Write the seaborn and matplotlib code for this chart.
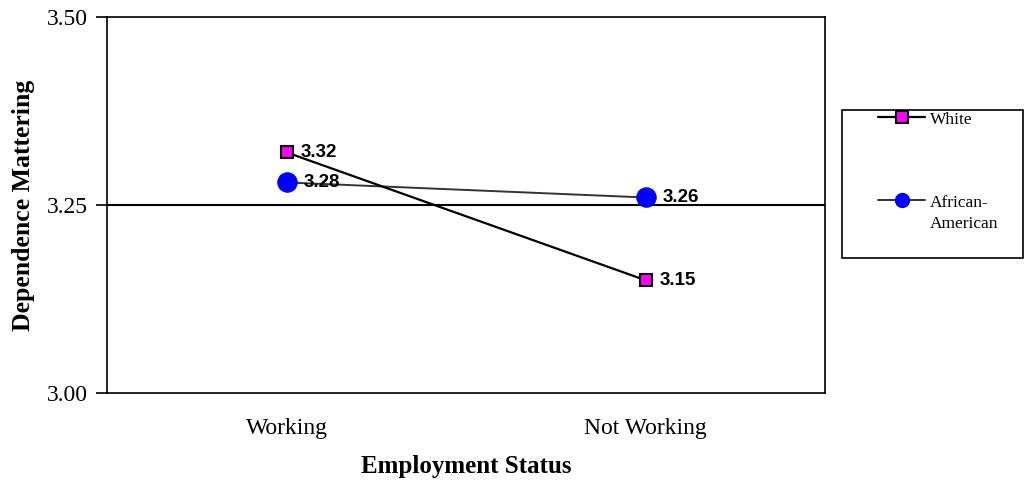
import matplotlib
matplotlib.use("Agg")
import matplotlib.pyplot as plt
import seaborn as sns
import pandas as pd
from matplotlib.lines import Line2D
from matplotlib.patches import Rectangle

categories = ["Working", "Not Working"]
white_vals = [3.32, 3.15]
aa_vals = [3.28, 3.26]
series_names = ["White", "African-American"]
yticks = [3.00, 3.25, 3.50]

sns.set_style("white")
plt.rcParams['font.family'] = ['Liberation Serif', 'DejaVu Serif']
plt.rcParams['text.color'] = 'black'
plt.rcParams['axes.labelcolor'] = 'black'
plt.rcParams['xtick.color'] = 'black'
plt.rcParams['ytick.color'] = 'black'

W, H = 1025, 480
fig = plt.figure(figsize=(W/100, H/100), dpi=100)
ax = fig.add_axes([107/W, 1-393/H, 718/W, 376/H])

x = list(range(len(categories)))
df_w = pd.DataFrame({"x": x, "y": white_vals})
df_a = pd.DataFrame({"x": x, "y": aa_vals})

ax.axhline(3.25, color="black", lw=1.5, zorder=1)

sns.lineplot(data=df_a, x="x", y="y", ax=ax, color="#333333", lw=1.4,
             marker="o", markersize=14, markerfacecolor="#0000FF",
             markeredgecolor="#0000FF", zorder=3)
sns.lineplot(data=df_w, x="x", y="y", ax=ax, color="black", lw=1.6,
             marker="s", markersize=8, markerfacecolor="#FF00FF",
             markeredgecolor="black", markeredgewidth=1.5, zorder=4)

for xi, v in zip(x, white_vals):
    ax.annotate(f"{v:.2f}", (xi, v), xytext=(10, 0), textcoords="offset points",
                va="center", ha="left", fontsize=13.5, fontweight="bold",
                family="Liberation Sans", color="black", zorder=5)
for xi, v in zip(x, aa_vals):
    ax.annotate(f"{v:.2f}", (xi, v), xytext=(12, 0), textcoords="offset points",
                va="center", ha="left", fontsize=13.5, fontweight="bold",
                family="Liberation Sans", color="black", zorder=5)

ax.set_xlim(-0.5, 1.5)
ax.set_ylim(3.0, 3.5)
ax.set_xticks(x)
ax.set_xticklabels(categories, fontsize=17)
ax.set_yticks(yticks)
ax.set_yticklabels([f"{t:.2f}" for t in yticks], fontsize=17)
ax.tick_params(axis="y", direction="out", length=8, width=1.2, left=True, pad=6)
ax.tick_params(axis="x", length=0, pad=18)
for s in ax.spines.values():
    s.set_color("black")
    s.set_linewidth(1.2)
ax.set_xlabel("Employment Status", fontsize=18, fontweight="bold")
ax.set_ylabel("Dependence Mattering", fontsize=18.5, fontweight="bold")
ax.yaxis.set_label_coords((35-107)/718, 0.5)
ax.xaxis.set_label_coords(0.5, (393-455)/376)

# legend box
fig.add_artist(Rectangle((842/W, 1-258/H), (1023-842)/W, (258-110)/H,
                         transform=fig.transFigure, fill=False,
                         edgecolor="black", lw=1.2))
leg_entries = [
    (series_names[0], 117, 124, dict(color="black", lw=1.6, marker="s", markersize=8,
                                     markerfacecolor="#FF00FF", markeredgecolor="black",
                                     markeredgewidth=1.5)),
    ("African-\nAmerican", 200, 228, dict(color="#333333", lw=1.4, marker="o", markersize=10,
                                          markerfacecolor="#0000FF", markeredgecolor="#0000FF")),
]
for label, yy, base, st in leg_entries:
    fig.add_artist(Line2D([878/W, 925/W], [1-yy/H, 1-yy/H], transform=fig.transFigure,
                          markevery=[], **st))
    fig.add_artist(Line2D([902/W], [1-yy/H], transform=fig.transFigure,
                          **{**st, "lw": 0}))
    fig.text(930/W, 1-base/H, label, ha="left", va="baseline", fontsize=12.5,
             linespacing=1.4)

fig.savefig("out.png", dpi=100)
